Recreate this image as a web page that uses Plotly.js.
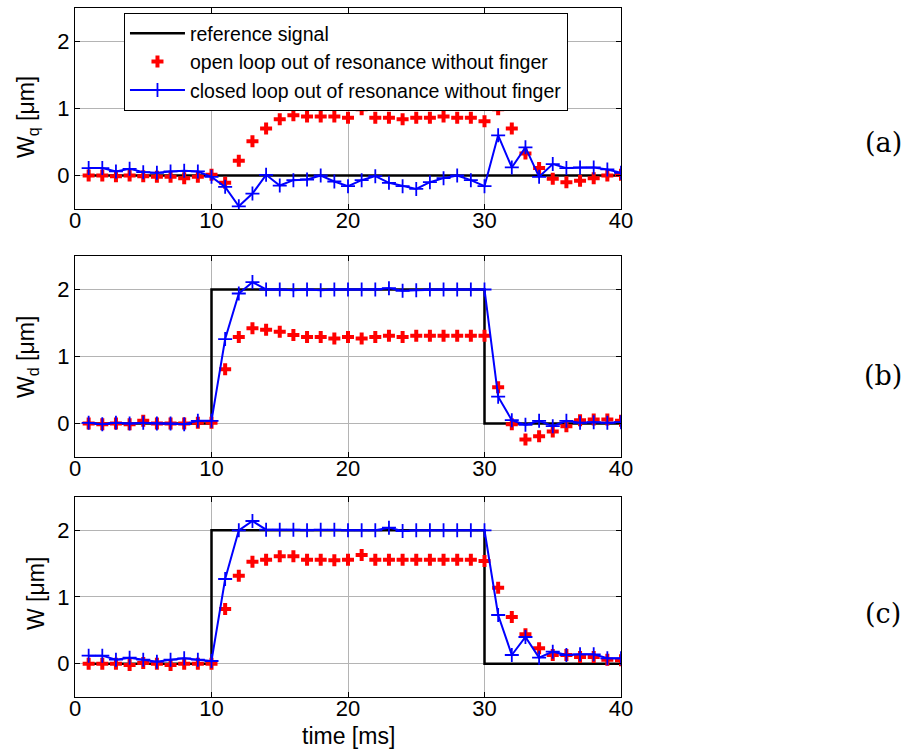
<!DOCTYPE html>
<html>
<head>
<meta charset="utf-8">
<script src="https://cdn.plot.ly/plotly-3.0.1.min.js"></script>
<style>html,body{margin:0;padding:0;background:#fff;}#chart{width:910px;height:749px;}</style>
</head>
<body>
<div id="chart"></div>
<script>
// time samples [ms]
const t = [1,2,3,4,5,6,7,8,9,10,11,12,13,14,15,16,17,18,19,20,21,22,23,24,25,26,27,28,29,30,31,32,33,34,35,36,37,38,39,40];

// reference signals
const refQx = [1, 40];
const refQy = [0, 0];
const refStepX = [1, 10, 10, 30, 30, 40];
const refStepY = [0, 0, 2, 2, 0, 0];

// (a) W_q
const openQ = [0,0,-0.01,0,-0.01,-0.02,-0.02,-0.04,-0.02,0.01,-0.11,0.22,0.51,0.70,0.84,0.90,0.88,0.88,0.88,0.86,0.99,0.86,0.86,0.84,0.86,0.86,0.88,0.86,0.86,0.81,0.99,0.70,0.33,0.11,-0.05,-0.10,-0.08,-0.04,0,0.01];
const closedQ = [0.11,0.11,0.06,0.10,0.05,0.04,0.06,0.07,0.06,-0.02,-0.17,-0.46,-0.27,0.01,-0.15,-0.07,-0.06,0,-0.09,-0.16,-0.07,-0.01,-0.11,-0.16,-0.20,-0.10,-0.04,0,-0.07,-0.16,0.60,0.12,0.42,-0.02,0.17,0.11,0.12,0.12,0.09,0.04];

// (b) W_d
const openD = [0,-0.01,0,-0.01,0.04,0,0,0,0.01,0.01,0.81,1.29,1.42,1.40,1.37,1.32,1.29,1.29,1.27,1.29,1.27,1.29,1.31,1.29,1.31,1.31,1.31,1.31,1.31,1.31,0.54,-0.01,-0.24,-0.19,-0.12,-0.04,0.05,0.06,0.06,0.04];
const closedD = [0.01,-0.01,0.01,0,0.01,0,0,-0.01,0.04,0.04,1.26,1.94,2.11,2.00,2.00,1.99,2.00,1.99,2.00,2.00,2.00,2.00,2.02,1.98,1.99,2.00,2.00,2.00,2.00,2.00,0.40,0.05,-0.02,0.04,-0.04,0.04,0.01,0.02,0.01,0.02];

// (c) W
const openW = [0,0,0,-0.02,0.01,0,-0.02,0,0,0,0.82,1.32,1.53,1.56,1.61,1.61,1.56,1.56,1.55,1.56,1.63,1.56,1.56,1.56,1.56,1.56,1.56,1.56,1.56,1.54,1.14,0.70,0.44,0.23,0.13,0.13,0.10,0.10,0.06,0.05];
const closedW = [0.12,0.12,0.06,0.09,0.06,0.03,0.06,0.08,0.06,0.04,1.27,2.00,2.14,2.01,2.01,2.01,2.00,2.01,2.01,2.00,2.00,2.00,2.04,1.99,2.00,2.00,2.00,2.00,2.00,2.00,0.73,0.13,0.40,0.09,0.18,0.13,0.14,0.14,0.08,0.08];

const xTicks = [0,10,20,30,40];
const yTicks = [0,1,2];

const names = ['reference signal','open loop out of resonance without finger','closed loop out of resonance without finger'];

function group(refX, refY, open, closed, xa, ya, show){
  return [
    {x: refX, y: refY, xaxis: xa, yaxis: ya, type:'scatter', mode:'lines', name: names[0], showlegend: show,
     line:{color:'#000000', width:2.5}},
    {x: t, y: open, xaxis: xa, yaxis: ya, type:'scatter', mode:'markers', name: names[1], showlegend: show,
     marker:{symbol:'cross', size:10, color:'#ff0000'}},
    {x: t, y: closed, xaxis: xa, yaxis: ya, type:'scatter', mode:'lines+markers', name: names[2], showlegend: show,
     line:{color:'#0000ff', width:2},
     marker:{symbol:'cross-thin', size:10, color:'#0000ff', line:{color:'#0000ff', width:1.8}}}
  ];
}

const data = [].concat(
  group(refQx, refQy, openQ, closedQ, 'x', 'y', true),
  group(refStepX, refStepY, openD, closedD, 'x2', 'y2', false),
  group(refStepX, refStepY, openW, closedW, 'x3', 'y3', false)
);

const fontFam = '"Liberation Sans", Arial, sans-serif';
const tickFont = {family:fontFam, size:22, color:'#000'};
function xa(anchor){
  return {anchor: anchor, range:[0,40], tickvals: xTicks, ticks:'inside', ticklen:5, tickcolor:'#000',
    showline:true, mirror:'ticks', linecolor:'#000', linewidth:1, showgrid:true, gridcolor:'#b4b4b4', gridwidth:1,
    zeroline:false, tickfont:tickFont, ticklabelstandoff:-8, domain:[0,1]};
}
function ya(anchor, dom){
  return {anchor: anchor, range:[-0.5,2.5], tickvals: yTicks, ticks:'inside', ticklen:5, tickcolor:'#000',
    showline:true, mirror:'ticks', linecolor:'#000', linewidth:1, showgrid:true, gridcolor:'#b4b4b4', gridwidth:1,
    zeroline:false, tickfont:tickFont, domain: dom};
}

const titleFont = {family:fontFam, size:23, color:'#000'};
const labFont = {family:'"DejaVu Serif", "Liberation Serif", serif', size:27, color:'#000'};

const layout = {
  width:910, height:749,
  margin:{l:75, r:289, t:8, b:52},
  paper_bgcolor:'#fff', plot_bgcolor:'#fff',
  showlegend:true,
  legend:{x:0.0897, y:0.9927, xanchor:'left', yanchor:'top', bgcolor:'#fff', bordercolor:'#000', borderwidth:1,
    font:{family:fontFam, size:19.5, color:'#000'}, tracegroupgap:0, itemwidth:55},
  xaxis: xa('y'), xaxis2: xa('y2'), xaxis3: xa('y3'),
  yaxis: ya('x', [0.7083, 1.0]),
  yaxis2: ya('x2', [0.3483, 0.6401]),
  yaxis3: ya('x3', [0, 0.2903]),
  annotations:[
    {text:'time [ms]', xref:'paper', yref:'paper', x:0.5, y:-0.0566, showarrow:false,
     font:titleFont, xanchor:'center', yanchor:'middle'},
    {text:'W<sub>q</sub> [μm]', xref:'paper', yref:'paper', x:-0.0861, y:0.8418, textangle:-90, showarrow:false,
     font:titleFont, xanchor:'center', yanchor:'middle'},
    {text:'W<sub>d</sub> [μm]', xref:'paper', yref:'paper', x:-0.0861, y:0.4935, textangle:-90, showarrow:false,
     font:titleFont, xanchor:'center', yanchor:'middle'},
    {text:'W [μm]', xref:'paper', yref:'paper', x:-0.0714, y:0.1495, textangle:-90, showarrow:false,
     font:titleFont, xanchor:'center', yanchor:'middle'},
    {text:'(a)', xref:'paper', yref:'paper', x:1.4799, y:0.8041, showarrow:false, font:labFont, xanchor:'center', yanchor:'middle'},
    {text:'(b)', xref:'paper', yref:'paper', x:1.4799, y:0.4673, showarrow:false, font:labFont, xanchor:'center', yanchor:'middle'},
    {text:'(c)', xref:'paper', yref:'paper', x:1.4799, y:0.1219, showarrow:false, font:labFont, xanchor:'center', yanchor:'middle'}
  ]
};

Plotly.newPlot('chart', data, layout, {displayModeBar:false, staticPlot:true});
</script>
</body>
</html>
